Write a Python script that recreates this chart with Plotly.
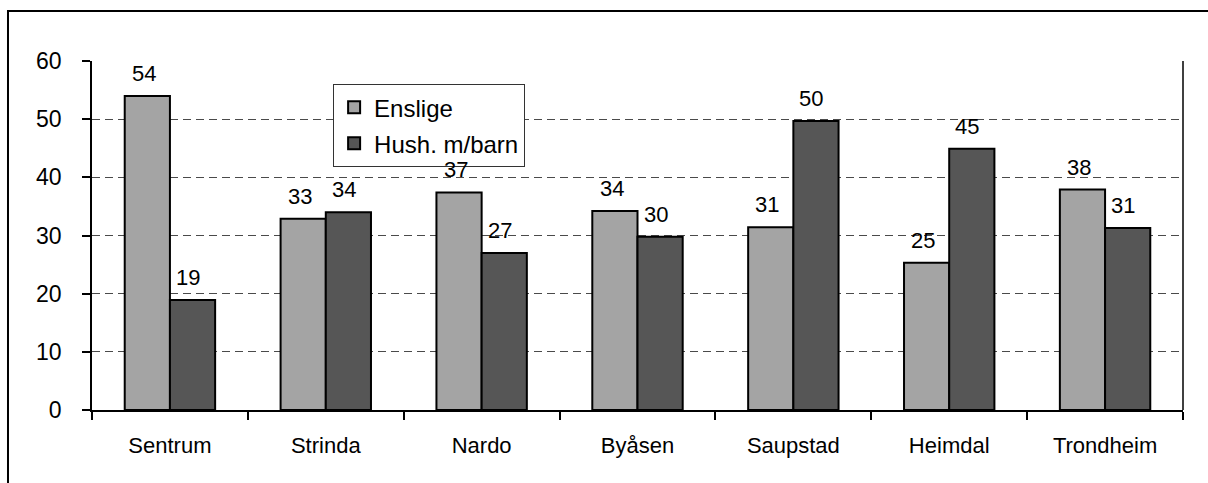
import plotly.graph_objects as go

# Share of households by district (percent)
districts = ["Sentrum", "Strinda", "Nardo", "Byåsen", "Saupstad", "Heimdal", "Trondheim"]
enslige = [54.0, 32.9, 37.4, 34.2, 31.4, 25.3, 37.9]
hush_barn = [18.9, 34.0, 27.0, 29.8, 49.7, 44.9, 31.3]
y_ticks = [0, 10, 20, 30, 40, 50, 60]

FONT = "Liberation Sans, Arial, sans-serif"
LIGHT = "#a4a4a4"
DARK = "#565656"

fig = go.Figure()
fig.add_trace(go.Bar(
    x=districts, y=enslige, name="Enslige", legendgroup="a",
    marker=dict(color=LIGHT, line=dict(color="black", width=2)),
))
fig.add_trace(go.Bar(
    x=districts, y=hush_barn, name="Hush. m/barn", legendgroup="b",
    marker=dict(color=DARK, line=dict(color="black", width=2)),
))

# value labels above each bar
annotations = []
for series, shift in ((enslige, -26), (hush_barn, 18)):
    for d, v in zip(districts, series):
        annotations.append(dict(
            x=d, y=v, xref="x", yref="y", text=f"{v:.0f}", showarrow=False,
            xshift=shift, yshift=8, yanchor="bottom",
            font=dict(family=FONT, size=22, color="black"),
        ))

fig.update_layout(
    width=1208, height=483,
    margin=dict(l=92, r=25, t=61, b=73),
    paper_bgcolor="white", plot_bgcolor="white",
    barmode="group", bargap=0.42, bargroupgap=0,
    font=dict(family=FONT, size=22, color="black"),
    showlegend=True,
    legend=dict(
        x=0.221, y=0.934, xanchor="left", yanchor="top",
        bgcolor="white", bordercolor="#333333", borderwidth=1,
        font=dict(family=FONT, size=24, color="black"),
        tracegroupgap=2, itemwidth=30,
    ),
    annotations=annotations,
    shapes=[
        # right edge of plot area
        dict(type="line", xref="paper", yref="paper", x0=1, x1=1, y0=0, y1=1,
             line=dict(color="black", width=1.5)),
        # outer chart frame
        dict(type="rect", xref="paper", yref="paper",
             x0=-0.077, x1=1.2, y0=-0.3, y1=1.1433,
             line=dict(color="black", width=2), layer="below"),
    ],
)

fig.update_xaxes(
    type="category", showline=True, linecolor="black", linewidth=1.5,
    ticks="outside", tickson="boundaries", ticklen=8, tickcolor="black", tickwidth=1.5,
    showgrid=False, ticklabelstandoff=15,
    tickfont=dict(family=FONT, size=22, color="black"),
)
fig.update_yaxes(
    range=[0, 60], tickvals=y_ticks, showline=True, linecolor="black", linewidth=1.5,
    ticks="outside", ticklen=8, tickcolor="black", tickwidth=1.5,
    showgrid=True, gridcolor="#4a4a4a", gridwidth=1, griddash="8px,5px",
    zeroline=False, ticklabelstandoff=16,
    tickfont=dict(family=FONT, size=23, color="black"),
)

fig.write_html("out.html")
